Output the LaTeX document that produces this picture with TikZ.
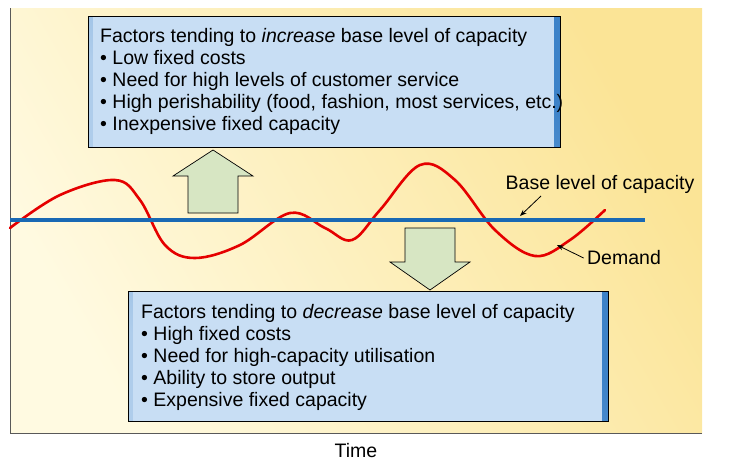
\documentclass[tikz,border=0pt]{standalone}
\usepackage{fontspec}
\setmainfont{Liberation Sans}
\usetikzlibrary{arrows.meta}
\definecolor{paleyellow}{RGB}{255,250,225}
\definecolor{deepyellow}{RGB}{251,228,150}
\definecolor{edgeblue}{RGB}{60,130,200}
\definecolor{lightedge}{RGB}{175,205,235}
\definecolor{boxfill}{RGB}{200,222,244}
\definecolor{basecol}{RGB}{25,105,180}
\definecolor{arrowgreen}{RGB}{215,230,195}
\tikzset{
    >=Stealth, % Default arrow tip
    factorbox/.style = {
        draw = black,
        line width = 0.8pt,
        left color = lightedge,
        right color = edgeblue,
        shading angle = 135,
        anchor = north west,
        align = left,
        inner sep = 0pt,
        path picture = {
            \fill[boxfill] ([shift={(5,-5)}]path picture bounding box.north west)
                rectangle ([shift={(-6,6)}]path picture bounding box.south east);
        }
    },
    bigarrow/.style = {
        draw = black,
        line width = 0.7pt,
        fill = arrowgreen
    },
    label/.style = {font = \fontsize{19.5}{22}\selectfont}
}

\begin{document}
\begin{tikzpicture}[x=1pt, y=-1pt]
    \useasboundingbox (0,0) rectangle (730,467);
    % background panel
    \shade[left color = paleyellow, right color = deepyellow, shading angle = 120]
        (10,8) rectangle (702,433);
    \draw[gray!70!black, line width = 0.6pt] (10,8) -- (10,433) -- (702,433);

    % demand curve and base level
    \draw[red!90!black, line width = 2.6pt, line cap = round]
        plot[smooth, tension = 0.6] coordinates {
            (10,228) (60,195) (115,180) (140,200) (165,245) (195,258)
            (240,245) (290,213) (325,228) (352,240) (380,210) (420,165)
            (455,180) (495,230) (535,256) (570,240) (605,210)};
    \draw[basecol, line width = 4pt] (10,220) -- (645,220);

    % arrows
    \draw[bigarrow] (188,213) -- (188,176) -- (173,176) -- (213,150)
        -- (253,176) -- (238,176) -- (238,213) -- cycle;
    \draw[bigarrow] (405,228) -- (455,228) -- (455,262) -- (470,262)
        -- (430,290) -- (390,262) -- (405,262) -- cycle;

    % factor boxes
    \node[factorbox, minimum width = 472pt, minimum height = 131pt] (incbox) at (88,16) {};
    \node[label, anchor = north west, align = left, inner sep = 0pt] (inctext) at (100,28)
        {Factors tending to \emph{increase} base level of capacity\\
        • Low fixed costs\\
        • Need for high levels of customer service\\
        • High perishability (food, fashion, most services, etc.)\\
        • Inexpensive fixed capacity};
    \node[factorbox, minimum width = 480pt, minimum height = 130pt] (decbox) at (128,291) {};
    \node[label, anchor = north west, align = left, inner sep = 0pt] (dectext) at (141,304)
        {Factors tending to \emph{decrease} base level of capacity\\
        • High fixed costs\\
        • Need for high-capacity utilisation\\
        • Ability to store output\\
        • Expensive fixed capacity};

    % curve labels
    \node[label] (baselabel) at (600,184) {Base level of capacity};
    \node[label] (demandlabel) at (624,258) {Demand};
    \coordinate (basept) at (520,216);
    \coordinate (demandpt) at (557,245);
    \draw[->, line width = 0.8pt] (541,196) -- (basept);
    \draw[->, line width = 0.8pt] (demandlabel.west) -- (demandpt);

    \node[label] (timelabel) at (356,451) {Time};
\end{tikzpicture}
\end{document}
